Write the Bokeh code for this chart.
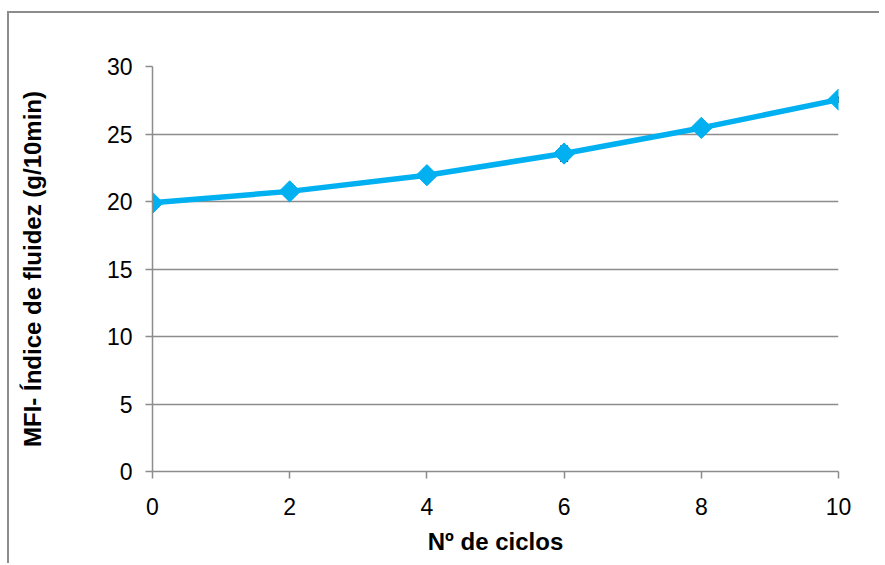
import numpy as np
from bokeh.plotting import figure
from bokeh.models import Range1d, FixedTicker
from bokeh.embed import file_html
from bokeh.resources import INLINE

ciclos = [0, 2, 4, 6, 8, 10]
mfi = [19.9, 20.75, 21.95, 23.55, 25.45, 27.55]
erro = [0.2, 0.3, 0.45, 0.55, 0.3, 0.2]
x_ticks = [0, 2, 4, 6, 8, 10]
y_ticks = [0, 5, 10, 15, 20, 25, 30]

x_title = "Nº de ciclos"
y_title = "MFI- Índice de fluidez (g/10min)"

GRAY = "#8c8c8c"
BLUE = "#00b0f0"
FONT = "Liberation Sans"

p = figure(width=870, height=550, output_backend="svg", toolbar_location=None,
           x_range=Range1d(0, 10), y_range=Range1d(0, 30),
           min_border_left=143, min_border_right=41, min_border_top=53, min_border_bottom=92)
p.frame_width = 686
p.frame_height = 405
p.outline_line_color = None
p.styles = {"border-left": "2px solid " + GRAY, "border-top": "2px solid " + GRAY,
            "margin-top": "11px", "margin-left": "7px"}

p.xgrid.visible = False
p.ygrid.grid_line_color = GRAY
p.ygrid.grid_line_width = 1.5
p.ygrid.ticker = FixedTicker(ticks=y_ticks)

for ax in (p.xaxis[0], p.yaxis[0]):
    ax.axis_line_color = GRAY
    ax.axis_line_width = 1.5
    ax.major_tick_line_color = GRAY
    ax.major_tick_line_width = 1.5
    ax.major_tick_in = 0
    ax.major_tick_out = 7
    ax.minor_tick_line_color = None
    ax.major_label_text_font = FONT
    ax.major_label_text_font_size = "23px"
    ax.major_label_text_color = "#000000"
    ax.axis_label_text_font = FONT
    ax.axis_label_text_font_size = "24px"
    ax.axis_label_text_font_style = "bold"
    ax.axis_label_text_color = "#000000"

p.xaxis.ticker = FixedTicker(ticks=x_ticks)
p.yaxis.ticker = FixedTicker(ticks=y_ticks)
p.xaxis.axis_label = x_title
p.yaxis.axis_label = y_title
p.yaxis.major_label_standoff = 13
p.xaxis.major_label_standoff = 19
p.yaxis.axis_label_standoff = 58
p.xaxis.axis_label_standoff = 10

lo = [m - e for m, e in zip(mfi, erro)]
hi = [m + e for m, e in zip(mfi, erro)]
p.segment(ciclos, lo, ciclos, hi, line_color="black", line_width=1.5)
p.scatter(ciclos, lo, marker="dash", size=8, line_color="black", line_width=1.5)
p.scatter(ciclos, hi, marker="dash", size=8, line_color="black", line_width=1.5)

p.line(ciclos, mfi, line_color=BLUE, line_width=5.5)
p.scatter(ciclos, mfi, marker="square", angle=np.pi / 4, size=15,
          fill_color=BLUE, line_color=BLUE)

open("out.html", "w").write(file_html(p, INLINE))
